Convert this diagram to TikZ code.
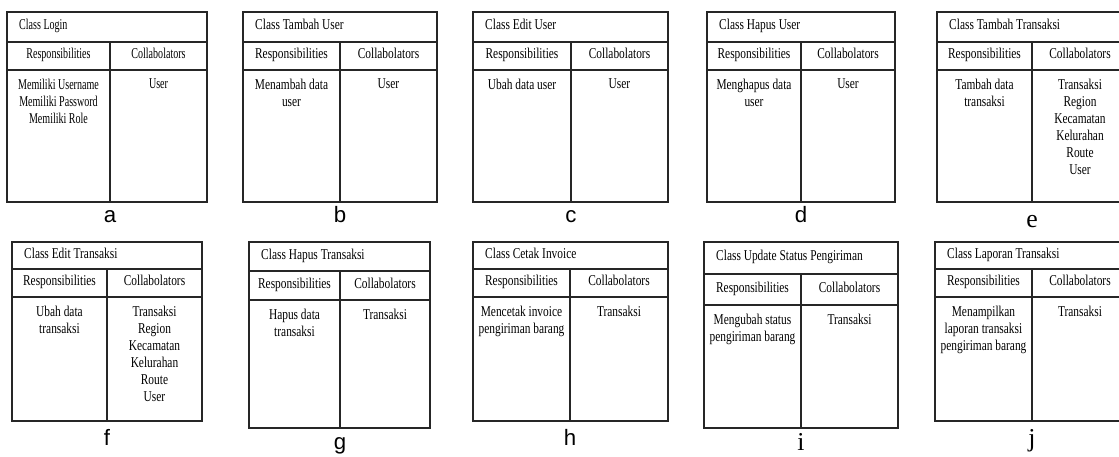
\documentclass[tikz,border=0pt]{standalone}
\usepackage{fontspec}
\newfontfamily\cardserif[FakeStretch=0.76]{Liberation Serif}
\newfontfamily\cardserifnarrow[FakeStretch=0.67]{Liberation Serif}
\newfontfamily\labelsans{Liberation Sans}
\newfontfamily\labelserif{Liberation Serif}
\newcommand{\cardsize}{\fontsize{12.8pt}{14.5pt}\selectfont}

\begin{document}
\begin{tikzpicture}
[x=0.03cm,y=-0.03cm,
  cardLine/.style={draw=black!85,line width=0.9pt},
  titleText/.style={anchor=west,inner sep=0pt,text height=0.68em,text depth=0.2em},
  headText/.style={inner sep=0pt,text height=0.68em,text depth=0.2em},
  bodyText/.style={anchor=north,align=center,inner sep=0pt},
  sansLetter/.style={anchor=base,inner sep=0pt,font=\labelsans\fontsize{19pt}{22pt}\selectfont},
  serifLetter/.style={anchor=base,inner sep=0pt,font=\labelserif\fontsize{22pt}{26pt}\selectfont}]
\clip (0,0) rectangle (1119,457);
%% card frames and header row
\foreach \id/\fnt/\xl/\xm/\xr/\yt/\ya/\yb/\yd in {
  a/\cardserifnarrow/7/110/207/12/42/70/202,
  b/\cardserif/243/340/437/12/42/70/202,
  c/\cardserif/473/571/668/12/42/70/202,
  d/\cardserif/707/801/895/12/42/70/202,
  e/\cardserif/937/1032/1128/12/42/70/202,
  f/\cardserif/12/107/202/242/269/297/421,
  g/\cardserif/249/340/430/242/271/300/428,
  h/\cardserif/473/570/668/242/269/297/421,
  i/\cardserif/704/801/898/242/274/305/428,
  j/\cardserif/935/1032/1128/242/269/297/421}
{
  \draw[cardLine] (\xl,\yt) rectangle (\xr,\yd);
  \draw[cardLine] (\xl,\ya) -- (\xr,\ya) (\xl,\yb) -- (\xr,\yb) (\xm,\ya) -- (\xm,\yd);
  \node[headText,font=\fnt\cardsize] (\id-resp) at ({(\xl+\xm)/2},{(\ya+\yb)/2}) {Responsibilities};
  \node[headText,font=\fnt\cardsize] (\id-coll) at ({(\xm+\xr)/2},{(\ya+\yb)/2}) {Collabolators};
  \coordinate (\id-t) at ({\xl+12},{(\yt+\ya)/2});
  \coordinate (\id-r) at ({(\xl+\xm)/2},{\yb+8.5});
  \coordinate (\id-c) at ({(\xm+\xr)/2},{\yb+8.5});
}
%% titles and card contents
\foreach \id/\fnt/\title/\resp/\coll in {
  a/\cardserifnarrow/{Class Login}/{Memiliki Username\\Memiliki Password\\Memiliki Role}/{User},
  b/\cardserif/{Class Tambah User}/{Menambah data\\user}/{User},
  c/\cardserif/{Class Edit User}/{Ubah data user}/{User},
  d/\cardserif/{Class Hapus User}/{Menghapus data\\user}/{User},
  e/\cardserif/{Class Tambah Transaksi}/{Tambah data\\transaksi}/{Transaksi\\Region\\Kecamatan\\Kelurahan\\Route\\User},
  f/\cardserif/{Class Edit Transaksi}/{Ubah data\\transaksi}/{Transaksi\\Region\\Kecamatan\\Kelurahan\\Route\\User},
  g/\cardserif/{Class Hapus Transaksi}/{Hapus data\\transaksi}/{Transaksi},
  h/\cardserif/{Class Cetak Invoice}/{Mencetak invoice\\pengiriman barang}/{Transaksi},
  i/\cardserif/{Class Update Status Pengiriman}/{Mengubah status\\pengiriman barang}/{Transaksi},
  j/\cardserif/{Class Laporan Transaksi}/{Menampilkan\\laporan transaksi\\pengiriman barang}/{Transaksi}}
{
  \node[titleText,font=\fnt\cardsize] (\id-title) at (\id-t) {\title};
  \node[bodyText,font=\fnt\cardsize] (\id-rbody) at (\id-r) {\resp};
  \node[bodyText,font=\fnt\cardsize] (\id-cbody) at (\id-c) {\coll};
}
%% letters under the cards
\foreach \id/\x/\y/\st in {
  a/110/223/sansLetter, b/340/223/sansLetter, c/571/223/sansLetter,
  d/801/223/sansLetter, e/1032/228/serifLetter,
  f/107/445/sansLetter, g/340/449/sansLetter, h/570/445/sansLetter,
  i/801/450/serifLetter, j/1032/446/serifLetter}
{
  \node[\st] (\id-label) at (\x,\y) {\id};
}
\end{tikzpicture}
\end{document}
